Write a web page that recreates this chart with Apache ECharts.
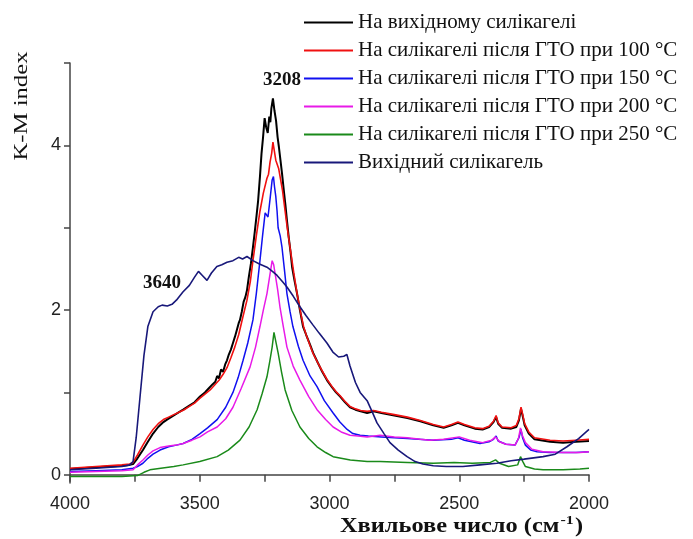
<!DOCTYPE html>
<html>
<head>
<meta charset="utf-8">
<script src="https://cdn.jsdelivr.net/npm/echarts@6/dist/echarts.min.js"></script>
<style>
  html, body { margin: 0; padding: 0; background: #fff; }
  #chart { width: 693px; height: 539px; }
</style>
</head>
<body>
<div id="chart"></div>
<script>
// назви серій (як у легенді)
const seriesNames = [
  'На вихідному силікагелі',
  'На силікагелі після ГТО при 100 °C',
  'На силікагелі після ГТО при 150 °C',
  'На силікагелі після ГТО при 200 °C',
  'На силікагелі після ГТО при 250 °C',
  'Вихідний силікагель'
];
const xTickLabels = [4000, 3500, 3000, 2500, 2000];
const xTicks = [4000, 3750, 3500, 3250, 3000, 2750, 2500, 2250, 2000];
const yTickLabels = [0, 2, 4];
const yTicks = [0, 1, 2, 3, 4, 5];

// [хвильове число, K-M]
const kmInitial = [[4000,0.07],[3900,0.09],[3800,0.11],[3770,0.12],[3757,0.13],[3740,0.2],[3719,0.3],[3700,0.4],[3680,0.5],[3660,0.58],[3640,0.64],[3626,0.67],[3600,0.72],[3580,0.76],[3564,0.79],[3540,0.84],[3520,0.88],[3499,0.95],[3480,1.0],[3465,1.05],[3450,1.1],[3440,1.13],[3433,1.2],[3426,1.17],[3418,1.28],[3410,1.25],[3402,1.34],[3395,1.39],[3388,1.46],[3380,1.52],[3372,1.6],[3364,1.68],[3356,1.77],[3350,1.84],[3345,1.88],[3338,1.98],[3331,2.1],[3324,2.16],[3318,2.24],[3311,2.4],[3303,2.56],[3295,2.76],[3288,2.95],[3281,3.15],[3275,3.33],[3268,3.62],[3262,3.9],[3256,4.1],[3250,4.33],[3244,4.22],[3238,4.15],[3232,4.35],[3228,4.28],[3224,4.45],[3218,4.57],[3212,4.42],[3206,4.3],[3200,4.1],[3195,3.98],[3189,3.82],[3183,3.66],[3176,3.45],[3170,3.28],[3164,3.09],[3157,2.88],[3150,2.7],[3144,2.52],[3135,2.36],[3125,2.2],[3114,2.0],[3102,1.8],[3090,1.7],[3075,1.58],[3063,1.48],[3045,1.36],[3028,1.25],[3010,1.15],[2990,1.06],[2975,1.0],[2959,0.95],[2940,0.88],[2921,0.82],[2900,0.79],[2880,0.77],[2855,0.75],[2830,0.77],[2800,0.75],[2750,0.72],[2700,0.69],[2650,0.65],[2600,0.6],[2560,0.57],[2530,0.6],[2505,0.63],[2480,0.6],[2440,0.56],[2410,0.55],[2385,0.58],[2368,0.64],[2358,0.7],[2350,0.62],[2335,0.57],[2300,0.56],[2280,0.58],[2270,0.66],[2262,0.8],[2256,0.72],[2248,0.6],[2232,0.5],[2210,0.43],[2150,0.4],[2100,0.39],[2050,0.4],[2000,0.41]];

const km100 = [[4000,0.08],[3900,0.1],[3800,0.12],[3770,0.13],[3757,0.15],[3740,0.24],[3719,0.36],[3700,0.46],[3680,0.55],[3660,0.62],[3640,0.67],[3620,0.7],[3600,0.73],[3580,0.76],[3560,0.79],[3540,0.83],[3520,0.87],[3499,0.93],[3480,0.98],[3460,1.03],[3440,1.1],[3425,1.15],[3410,1.22],[3395,1.3],[3380,1.42],[3365,1.55],[3350,1.7],[3335,1.9],[3318,2.12],[3305,2.35],[3295,2.6],[3282,2.9],[3268,3.2],[3255,3.42],[3241,3.6],[3235,3.65],[3229,3.8],[3223,3.9],[3218,4.04],[3212,3.92],[3207,3.82],[3202,3.8],[3196,3.72],[3191,3.7],[3181,3.45],[3171,3.2],[3162,2.98],[3152,2.76],[3138,2.46],[3125,2.2],[3110,1.95],[3100,1.8],[3090,1.7],[3075,1.57],[3063,1.47],[3045,1.36],[3028,1.26],[3010,1.16],[2990,1.07],[2975,1.01],[2959,0.96],[2940,0.89],[2921,0.83],[2900,0.8],[2880,0.78],[2855,0.77],[2830,0.78],[2800,0.76],[2750,0.73],[2700,0.7],[2650,0.66],[2600,0.61],[2560,0.58],[2530,0.61],[2505,0.64],[2480,0.61],[2440,0.57],[2410,0.56],[2385,0.59],[2368,0.65],[2358,0.72],[2350,0.63],[2335,0.58],[2300,0.57],[2280,0.6],[2270,0.68],[2262,0.82],[2256,0.74],[2248,0.62],[2232,0.52],[2210,0.45],[2150,0.42],[2100,0.41],[2050,0.42],[2000,0.43]];

const km150 = [[4000,0.04],[3900,0.05],[3800,0.06],[3757,0.08],[3740,0.1],[3719,0.14],[3700,0.2],[3680,0.25],[3653,0.3],[3620,0.34],[3590,0.36],[3564,0.38],[3530,0.43],[3499,0.5],[3470,0.57],[3433,0.67],[3400,0.82],[3372,1.0],[3352,1.18],[3333,1.39],[3315,1.6],[3295,1.88],[3282,2.2],[3268,2.6],[3258,2.9],[3248,3.18],[3242,3.2],[3237,3.13],[3229,3.35],[3221,3.58],[3216,3.62],[3212,3.5],[3207,3.38],[3202,3.2],[3198,3.0],[3190,2.9],[3183,2.76],[3174,2.5],[3164,2.2],[3152,1.98],[3141,1.8],[3120,1.56],[3102,1.39],[3075,1.2],[3048,1.07],[3020,0.9],[2986,0.75],[2960,0.64],[2932,0.55],[2910,0.5],[2882,0.48],[2850,0.47],[2800,0.46],[2700,0.44],[2600,0.42],[2530,0.43],[2505,0.45],[2480,0.42],[2420,0.38],[2385,0.4],[2368,0.43],[2358,0.47],[2350,0.41],[2320,0.37],[2285,0.36],[2270,0.45],[2262,0.55],[2256,0.45],[2245,0.36],[2225,0.3],[2200,0.28],[2150,0.27],[2100,0.27],[2050,0.27],[2000,0.28]];

const km200 = [[4000,0.03],[3900,0.04],[3800,0.05],[3757,0.06],[3740,0.12],[3719,0.18],[3700,0.24],[3680,0.29],[3653,0.33],[3620,0.35],[3590,0.36],[3564,0.38],[3530,0.42],[3499,0.46],[3470,0.52],[3433,0.58],[3400,0.68],[3372,0.82],[3340,1.05],[3306,1.31],[3285,1.55],[3268,1.8],[3255,2.0],[3241,2.2],[3230,2.42],[3221,2.6],[3215,2.55],[3210,2.45],[3200,2.25],[3191,2.04],[3178,1.8],[3164,1.55],[3140,1.32],[3114,1.15],[3080,0.95],[3048,0.79],[3015,0.67],[2986,0.58],[2955,0.52],[2921,0.48],[2890,0.47],[2855,0.46],[2805,0.48],[2750,0.46],[2700,0.45],[2650,0.43],[2613,0.42],[2560,0.43],[2500,0.46],[2460,0.42],[2410,0.39],[2375,0.42],[2360,0.46],[2345,0.4],[2320,0.37],[2285,0.36],[2272,0.44],[2264,0.57],[2257,0.48],[2245,0.39],[2220,0.31],[2177,0.28],[2100,0.27],[2035,0.27],[2000,0.28]];

const km250 = [[4000,-0.02],[3900,-0.02],[3800,-0.02],[3740,-0.01],[3715,0.03],[3692,0.06],[3650,0.08],[3600,0.1],[3564,0.12],[3500,0.16],[3433,0.22],[3390,0.3],[3345,0.42],[3310,0.58],[3279,0.79],[3260,0.98],[3241,1.19],[3230,1.38],[3221,1.55],[3214,1.73],[3207,1.62],[3198,1.48],[3185,1.25],[3171,1.03],[3145,0.78],[3114,0.58],[3080,0.44],[3048,0.34],[3015,0.27],[2986,0.22],[2920,0.18],[2855,0.16],[2805,0.16],[2700,0.15],[2600,0.14],[2520,0.15],[2450,0.14],[2380,0.15],[2360,0.18],[2345,0.14],[2310,0.1],[2275,0.12],[2264,0.22],[2255,0.16],[2245,0.1],[2210,0.07],[2177,0.06],[2100,0.06],[2035,0.07],[2000,0.08]];

const kmSilica = [[4000,0.06],[3900,0.08],[3800,0.1],[3770,0.12],[3757,0.16],[3745,0.45],[3730,0.95],[3715,1.45],[3700,1.8],[3680,1.98],[3660,2.04],[3645,2.06],[3625,2.05],[3607,2.07],[3590,2.12],[3565,2.22],[3540,2.3],[3520,2.4],[3505,2.47],[3490,2.42],[3472,2.36],[3455,2.45],[3434,2.53],[3415,2.55],[3395,2.58],[3372,2.6],[3350,2.64],[3335,2.62],[3318,2.65],[3295,2.6],[3270,2.56],[3241,2.52],[3220,2.47],[3202,2.42],[3180,2.34],[3164,2.28],[3140,2.17],[3114,2.04],[3090,1.93],[3064,1.82],[3040,1.72],[3010,1.6],[2987,1.49],[2965,1.43],[2945,1.44],[2933,1.46],[2921,1.32],[2900,1.12],[2882,1.0],[2855,0.9],[2835,0.76],[2817,0.63],[2790,0.5],[2767,0.39],[2735,0.3],[2701,0.22],[2670,0.16],[2640,0.13],[2600,0.11],[2550,0.1],[2486,0.1],[2420,0.12],[2355,0.14],[2300,0.17],[2250,0.19],[2177,0.22],[2130,0.25],[2085,0.34],[2040,0.44],[2000,0.55]];

const seriesData = [kmInitial, km100, km150, km200, km250, kmSilica];
const colors = ['#000000', '#f01010', '#1010f0', '#e81ae8', '#1a8a1a', '#18187a'];
const widths = [2, 1.6, 1.5, 1.5, 1.5, 1.6];

const chart = echarts.init(document.getElementById('chart'));
const axisColor = '#444';
chart.setOption({
  animation: false,
  grid: { left: 70, right: 104, top: 63, bottom: 56 },
  legend: {
    orient: 'vertical',
    left: 303,
    top: 12,
    padding: 0,
    itemWidth: 49,
    itemHeight: 14,
    itemGap: 7,
    itemStyle: { opacity: 0 },
    textStyle: { fontFamily: 'Liberation Serif', fontSize: 21, color: '#111' },
    data: seriesNames
  },
  xAxis: {
    type: 'value',
    min: 2000,
    max: 4000,
    inverse: true,
    interval: 250,
    splitLine: { show: false },
    axisLine: { lineStyle: { color: axisColor, width: 1.5 } },
    axisTick: { length: 7, customValues: xTicks, lineStyle: { color: axisColor, width: 1.5 } },
    axisLabel: {
      customValues: xTickLabels,
      formatter: (v) => String(v),
      margin: 12,
      fontFamily: 'Liberation Sans',
      fontSize: 18,
      color: '#222'
    }
  },
  yAxis: {
    type: 'value',
    min: -0.1,
    max: 5,
    splitLine: { show: false },
    axisLine: { lineStyle: { color: axisColor, width: 1.5 } },
    axisTick: { length: 6, customValues: yTicks, lineStyle: { color: axisColor, width: 1.5 } },
    axisLabel: {
      customValues: yTickLabels,
      formatter: (v) => String(v),
      margin: 9,
      fontFamily: 'Liberation Sans',
      fontSize: 18,
      color: '#222'
    }
  },
  series: seriesNames.map((name, i) => ({
    name: name,
    type: 'line',
    data: seriesData[i],
    symbol: 'none',
    showSymbol: false,
    color: colors[i],
    lineStyle: { color: colors[i], width: widths[i] }
  })),
  graphic: [
    {
      type: 'text',
      x: 22, y: 106,
      rotation: Math.PI / 2,
      scaleX: 1.3,
      style: {
        text: 'K-M index',
        fontFamily: 'Liberation Serif',
        fontSize: 19,
        fill: '#111',
        align: 'center',
        verticalAlign: 'middle'
      }
    },
    {
      type: 'text',
      x: 340, y: 514,
      scaleX: 1.22,
      style: {
        text: '{a|Хвильове число (см}{s|-1}{a|)}',
        rich: {
          a: { fontFamily: 'Liberation Serif', fontWeight: 'bold', fontSize: 20, fill: '#111', verticalAlign: 'bottom' },
          s: { fontFamily: 'Liberation Serif', fontWeight: 'bold', fontSize: 13, fill: '#111', verticalAlign: 'top', padding: [0, 1, 10, 1] }
        }
      }
    },
    {
      type: 'text',
      x: 282, y: 80,
      style: {
        text: '3208',
        fontFamily: 'Liberation Serif',
        fontWeight: 'bold',
        fontSize: 19,
        fill: '#111',
        align: 'center',
        verticalAlign: 'middle'
      }
    },
    {
      type: 'text',
      x: 162, y: 283,
      style: {
        text: '3640',
        fontFamily: 'Liberation Serif',
        fontWeight: 'bold',
        fontSize: 19,
        fill: '#111',
        align: 'center',
        verticalAlign: 'middle'
      }
    }
  ]
});
</script>
</body>
</html>
